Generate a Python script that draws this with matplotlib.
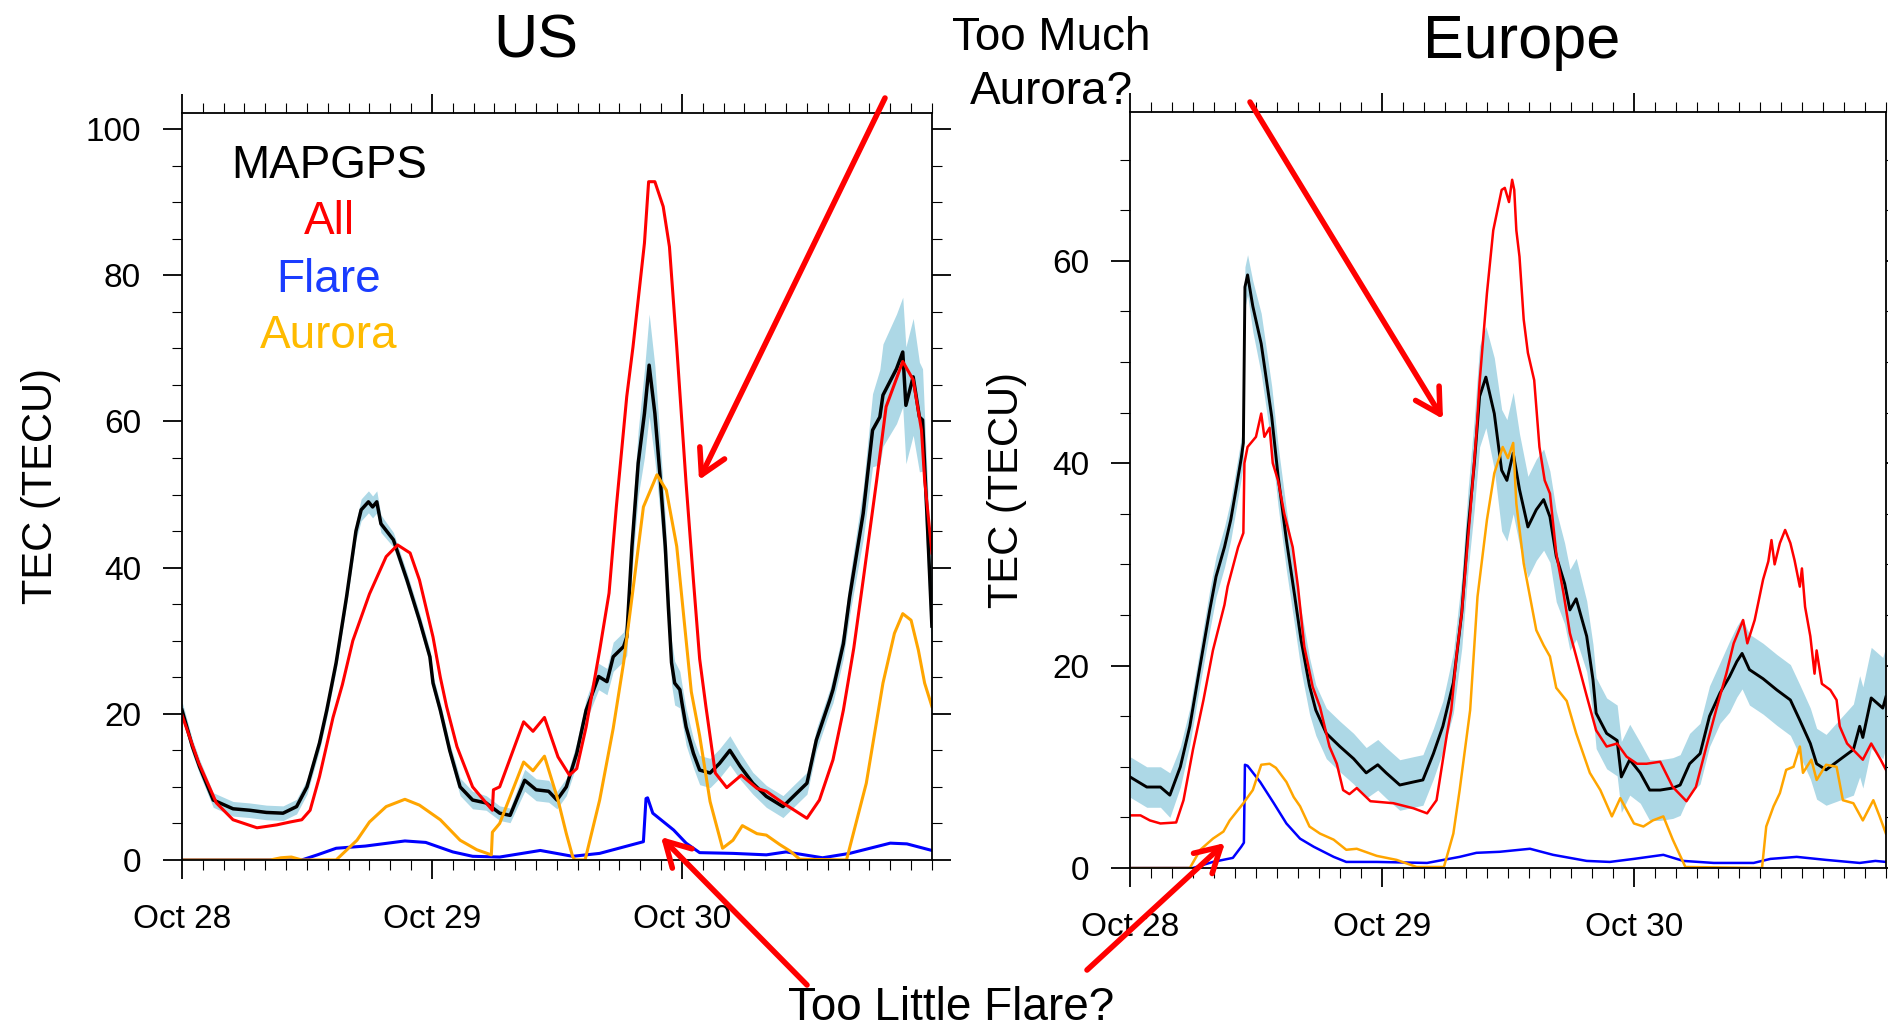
import numpy as np
import matplotlib.pyplot as plt
from matplotlib.patches import FancyArrowPatch
from matplotlib.ticker import MultipleLocator, FixedLocator

plt.rcParams['font.family'] = ['Liberation Sans', 'DejaVu Sans']

# ---- US panel (hours since Oct 28 00UT) ----
us_t_map = [0, 1.0, 1.7, 3.0, 4.9, 6.5, 8.1, 9.7, 11.0, 12.0, 13.2, 13.9, 14.8, 15.8, 16.7,
            17.2, 17.9, 18.3, 18.7, 19.1, 20.3, 21.6, 22.8, 23.8, 24.1, 24.8, 25.7, 26.7,
            27.9, 29.2, 30.5, 31.5, 32.9, 34.0, 35.2, 36.0, 36.9, 37.9, 38.8, 40.0, 40.8,
            41.4, 42.4, 42.7, 43.2, 43.8, 44.4, 44.85, 45.4, 45.9, 46.4, 46.7, 47.0, 47.3,
            47.8, 48.0, 48.4, 49.1, 49.7, 50.7, 51.6, 52.6, 53.6, 54.8, 56.1, 57.7, 58.7,
            60.0, 60.9, 62.2, 62.5, 63.5, 64.1, 65.4, 66.3, 67.0, 67.3, 68.6, 69.2, 69.5,
            70.2, 70.8, 71.1, 71.5, 72.0]
us_map = [20.5, 15.5, 12.7, 8.2, 7.0, 6.8, 6.5, 6.4, 7.3, 10.0, 16.0, 20.5, 27.0, 36.0, 45.0,
          47.9, 49.0, 48.3, 49.0, 46.0, 43.8, 38.3, 32.8, 27.8, 24.2, 20.5, 15.0, 10.0,
          8.2, 7.8, 6.4, 6.1, 10.9, 9.6, 9.4, 8.2, 10.0, 14.6, 20.5, 25.1, 24.4,
          27.8, 29.2, 30.5, 42.9, 54.3, 61.1, 67.7, 61.1, 52.5, 42.9, 34.5, 27.0, 24.2,
          23.3, 21.5, 18.2, 14.6, 12.3, 11.9, 13.2, 15.0, 12.8, 10.5, 8.7, 7.3, 8.7,
          10.5, 16.4, 21.9, 23.3, 29.6, 36.0, 47.4, 58.8, 60.6, 63.6, 67.2, 69.5, 62.2,
          66.1, 60.6, 60.2, 48.0, 32.0]
us_err = [1.2, 1.0, 1.0, 1.0, 1.0, 1.0, 1.0, 1.0, 1.0, 1.0, 1.0, 1.0, 1.0, 1.0, 1.2,
          1.5, 1.5, 1.5, 1.5, 1.2, 1.0, 1.0, 1.0, 1.0, 1.0, 1.0, 1.0, 1.2,
          1.2, 1.0, 1.0, 1.0, 1.5, 1.5, 1.5, 1.2, 1.2, 1.5, 1.5, 1.8, 1.8,
          2.0, 2.0, 2.5, 3.5, 4.5, 6.0, 7.0, 6.5, 5.0, 4.0, 3.0, 3.0, 3.0,
          2.5, 2.5, 2.5, 2.0, 2.0, 2.0, 2.0, 2.0, 1.8, 1.5, 1.5, 1.5, 1.5,
          1.5, 1.5, 1.5, 1.8, 2.0, 2.5, 3.5, 5.0, 6.5, 7.0, 7.5, 7.5, 8.0,
          8.0, 7.5, 7.0, 6.0, 5.0]

us_t_all = [0, 1.6, 3.3, 4.9, 7.2, 9.1, 10.4, 11.5, 12.3, 13.2, 14.5, 15.4, 16.4, 18.0,
            19.6, 20.7, 21.9, 22.8, 24.1, 24.8, 25.4, 26.4, 27.9, 29.8, 29.9, 30.5, 32.8,
            33.7, 34.8, 36.1, 37.2, 37.9, 38.8, 40.1, 41.0, 41.7, 42.7, 43.3, 44.4, 44.8,
            45.4, 46.2, 46.8, 47.5, 48.4, 49.1, 49.7, 50.3, 51.2, 52.3, 53.7, 55.2, 56.1,
            57.7, 60.0, 61.2, 62.5, 63.5, 64.5, 65.4, 66.7, 67.6, 69.2, 70.2, 71.0, 71.3, 72.0]
us_all = [19.8, 13.3, 7.8, 5.5, 4.4, 4.8, 5.2, 5.5, 6.8, 11.4, 19.5, 24.0, 30.0, 36.4,
          41.5, 43.1, 42.0, 38.3, 30.5, 25.0, 21.0, 15.5, 10.0, 6.8, 9.6, 10.0, 18.9,
          17.6, 19.5, 14.1, 11.6, 12.5, 18.2, 28.7, 36.5, 48.3, 63.4, 70.2, 84.4, 92.8,
          92.8, 89.4, 83.9, 70.2, 51.5, 38.3, 27.5, 21.0, 11.9, 9.9, 11.6, 9.8, 9.4,
          7.8, 5.7, 8.2, 13.7, 20.5, 29.0, 38.3, 52.0, 62.0, 68.2, 65.7, 58.8, 52.0, 42.0]

us_t_flare = [0, 11.5, 13.0, 14.8, 17.6, 21.4, 23.4, 26.0, 27.9, 30.5, 34.4, 37.5, 40.1,
              44.3, 44.55, 44.7, 45.2, 47.2, 48.4, 49.7, 52.9, 56.1, 58.0, 61.5, 64.1,
              68.0, 69.6, 72.0]
us_flare = [0, 0, 0.7, 1.6, 1.9, 2.6, 2.4, 1.1, 0.5, 0.4, 1.3, 0.5, 0.9,
            2.5, 8.4, 8.5, 6.4, 4.1, 2.3, 1.0, 0.9, 0.7, 1.1, 0.3, 0.9,
            2.3, 2.2, 1.3]

us_t_aur = [0, 8.5, 9.5, 10.5, 11.5, 14.8, 16.8, 18.0, 19.6, 21.4, 22.8, 24.8, 26.7, 28.3,
            29.7, 29.8, 30.5, 32.8, 33.7, 34.8, 36.1, 36.9, 37.5, 37.7, 38.7, 40.1, 41.4,
            42.4, 43.3, 44.3, 45.6, 46.5, 47.5, 48.3, 48.9, 49.7, 50.7, 51.9, 52.9, 53.8,
            55.2, 56.1, 57.4, 58.4, 59.3, 63.8, 65.7, 67.3, 68.4, 69.2, 70.0, 70.7, 71.3, 72.0]
us_aur = [0, 0, 0.3, 0.4, 0, 0, 2.7, 5.2, 7.3, 8.3, 7.5, 5.5, 2.7, 1.4,
          0.7, 3.8, 5.0, 13.4, 12.2, 14.2, 8.2, 3.6, 0.5, 0, 0, 8.2, 18.0,
          27.0, 37.0, 48.3, 52.7, 50.6, 42.9, 31.5, 23.0, 17.0, 8.0, 1.6, 2.7, 4.7,
          3.6, 3.4, 2.1, 1.2, 0.1, 0, 10.5, 24.2, 31.0, 33.7, 32.8, 28.7, 24.2, 21.0]

# ---- Europe panel ----
eu_t_map = [0, 1.6, 2.9, 3.8, 4.8, 5.7, 6.6, 7.6, 8.2, 9.0, 9.6, 10.1, 10.6, 10.8, 10.95,
            11.2, 11.7, 12.5, 13.0, 13.5, 14.1, 14.9, 15.7, 16.3, 17.1, 17.7, 18.7, 20.0,
            21.3, 22.5, 23.6, 24.4, 25.7, 27.0, 27.9, 28.9, 29.8, 30.8, 31.6, 32.2, 32.8,
            33.3, 33.9, 34.7, 35.4, 35.9, 36.5, 37.1, 37.9, 38.7, 39.4, 40.0, 40.6, 41.4,
            41.9, 42.5, 43.5, 44.1, 44.4, 45.4, 46.4, 46.8, 47.6, 48.6, 49.5, 50.5, 51.7,
            52.4, 53.3, 54.3, 55.2, 56.2, 57.1, 57.8, 58.3, 59.0, 60.3, 61.6, 62.9, 63.8,
            64.8, 65.4, 66.3, 67.6, 68.9, 69.5, 69.8, 70.6, 71.7, 72.0]
eu_map = [9.0, 8.0, 8.0, 7.2, 10.0, 14.0, 19.5, 25.5, 28.8, 31.7, 34.4, 37.4, 40.5, 42.0, 57.4,
          58.6, 55.5, 51.8, 48.2, 44.6, 38.8, 32.4, 26.8, 22.5, 18.0, 15.6, 13.3, 12.0,
          10.8, 9.4, 10.2, 9.4, 8.2, 8.5, 8.7, 11.3, 14.0, 18.3, 25.2, 33.4, 40.0,
          46.6, 48.5, 44.9, 39.3, 38.3, 41.0, 37.4, 33.7, 35.4, 36.4, 34.7, 30.8, 28.1,
          25.5, 26.6, 22.9, 18.6, 15.3, 13.3, 12.6, 9.0, 10.7, 9.4, 7.7, 7.7, 7.9,
          8.2, 10.3, 11.3, 15.0, 17.3, 18.9, 20.4, 21.2, 19.6, 18.7, 17.6, 16.6, 14.6,
          12.3, 10.3, 9.7, 10.7, 11.7, 14.0, 12.9, 16.8, 15.8, 16.9]
eu_err = [2.0, 2.0, 2.0, 2.2, 2.0, 1.8, 1.8, 2.0, 2.0, 2.0, 2.0, 2.0, 2.0, 2.0, 2.0,
          2.0, 2.5, 3.0, 3.0, 3.0, 3.0, 3.0, 3.0, 3.0, 2.8, 2.5, 2.5, 2.5,
          2.5, 2.5, 2.5, 2.5, 2.5, 2.5, 2.5, 2.5, 2.5, 3.0, 3.5, 4.0, 4.5,
          5.0, 5.0, 5.5, 6.0, 6.0, 6.0, 5.5, 5.0, 5.0, 5.0, 4.5, 4.5, 4.0,
          4.0, 4.0, 3.5, 3.5, 3.5, 3.5, 3.5, 3.5, 3.5, 3.0, 3.0, 3.0, 3.0,
          3.0, 3.0, 3.0, 3.0, 3.0, 3.5, 3.5, 3.5, 3.5, 3.5, 3.5, 3.5, 3.5,
          3.5, 3.5, 3.5, 4.0, 4.5, 5.0, 5.0, 5.0, 5.0, 5.0]

eu_t_all = [0, 1.0, 1.9, 2.9, 4.4, 5.1, 6.0, 7.0, 7.9, 9.0, 9.3, 10.3, 10.8, 10.9, 11.2,
            12.0, 12.5, 12.8, 13.3, 13.6, 14.1, 14.7, 15.5, 16.0, 16.6, 17.4, 18.1, 19.0,
            19.7, 20.3, 20.9, 21.6, 22.9, 25.1, 27.0, 28.3, 29.2, 30.2, 30.6, 31.1, 31.6,
            32.4, 33.0, 33.3, 34.0, 34.6, 35.4, 35.7, 36.1, 36.4, 36.6, 36.8, 37.1, 37.5,
            37.9, 38.5, 39.0, 39.5, 40.0, 40.6, 41.3, 41.9, 42.5, 43.5, 44.4, 45.4, 46.4,
            47.3, 48.3, 49.2, 50.5, 51.7, 53.0, 53.9, 54.9, 55.9, 56.8, 57.5, 58.4, 58.8,
            59.5, 60.3, 60.8, 61.1, 61.4, 61.9, 62.4, 62.9, 63.3, 63.8, 64.0, 64.3, 64.8,
            65.2, 65.4, 65.9, 66.7, 67.3, 67.6, 68.3, 69.8, 70.6, 71.5, 72.0]
eu_all = [5.2, 5.2, 4.7, 4.4, 4.5, 6.7, 11.7, 16.6, 21.5, 26.0, 27.8, 31.7, 33.1, 40.0, 41.6,
          42.6, 44.9, 42.6, 43.5, 40.0, 38.3, 35.0, 31.7, 27.8, 21.9, 17.9, 15.9, 12.0,
          10.3, 7.7, 7.3, 7.9, 6.6, 6.4, 5.9, 5.4, 6.7, 13.3, 15.6, 21.0, 25.2,
          35.0, 43.0, 48.0, 56.8, 63.0, 67.0, 67.2, 65.8, 68.0, 67.0, 63.0, 60.4, 54.2,
          50.9, 48.2, 41.6, 38.3, 37.0, 31.1, 27.1, 23.2, 20.9, 17.0, 13.6, 12.0, 12.3,
          11.0, 10.3, 10.3, 10.5, 8.0, 6.6, 8.0, 12.0, 15.9, 19.2, 22.2, 24.5, 22.2,
          24.5, 28.5, 30.3, 32.4, 30.0, 32.1, 33.4, 32.1, 30.4, 27.8, 29.6, 25.8, 22.9,
          19.2, 21.5, 18.2, 17.6, 16.6, 14.0, 12.3, 10.7, 12.3, 10.7, 9.7]

eu_t_flare = [0, 6.0, 7.9, 9.8, 10.6, 10.85, 10.95, 11.2, 12.4, 13.7, 14.9, 16.2, 17.5,
              19.4, 20.6, 23.5, 28.3, 31.4, 33.0, 35.2, 38.1, 40.3, 43.5, 45.7, 48.0,
              50.8, 52.7, 55.6, 59.4, 61.0, 63.5, 66.3, 69.5, 71.0, 72.0]
eu_flare = [0, 0, 0.6, 1.0, 2.1, 2.5, 10.2, 10.1, 8.5, 6.4, 4.4, 2.9, 2.1,
            1.1, 0.6, 0.6, 0.5, 1.1, 1.5, 1.6, 1.9, 1.3, 0.7, 0.6, 0.9,
            1.3, 0.7, 0.5, 0.5, 0.9, 1.1, 0.8, 0.5, 0.7, 0.6]

eu_t_aur = [0, 5.7, 6.7, 7.9, 8.9, 9.5, 10.8, 11.7, 12.5, 13.3, 13.9, 14.9, 15.6, 16.2,
            17.1, 18.1, 19.4, 20.6, 21.6, 23.5, 25.4, 27.3, 29.9, 30.8, 31.4, 32.4, 33.1,
            34.0, 34.7, 35.5, 36.0, 36.5, 36.8, 37.5, 38.1, 38.7, 39.4, 40.0, 40.6, 41.6,
            42.5, 43.8, 44.8, 45.9, 46.7, 48.0, 48.9, 49.8, 50.8, 51.7, 52.9, 60.2, 60.6,
            61.3, 61.9, 62.5, 63.2, 63.8, 64.1, 64.9, 65.4, 66.3, 67.3, 67.9, 68.9, 69.8,
            70.8, 71.4, 72.0]
eu_aur = [0, 0, 1.8, 2.9, 3.6, 4.7, 6.4, 7.7, 10.2, 10.3, 9.9, 8.5, 7.0, 6.1,
          4.1, 3.4, 2.8, 1.8, 1.9, 1.2, 0.8, 0.1, 0.1, 3.4, 7.7, 15.6, 26.8,
          34.4, 39.0, 41.6, 40.5, 42.0, 36.0, 30.1, 26.8, 23.5, 22.0, 20.9, 17.8, 16.5,
          13.3, 9.4, 7.7, 5.1, 6.9, 4.4, 4.1, 4.7, 5.1, 2.8, 0.1, 0, 4.1,
          6.1, 7.4, 9.7, 10.0, 12.0, 9.4, 10.7, 8.7, 10.2, 10.0, 6.7, 6.4, 4.7,
          6.7, 5.1, 3.4]

day_ticks = [0, 24, 48]
day_labels = ['Oct 28', 'Oct 29', 'Oct 30']

fig = plt.figure(figsize=(18.88, 10.31), dpi=100)
ax1 = fig.add_axes([0.0964, 0.1659, 0.3972, 0.7245])
ax2 = fig.add_axes([0.5985, 0.1581, 0.4004, 0.7333])


def draw_panel(ax, t_map, m, err, t_all, a, t_fl, fl, t_au, au, ymax, lw):
    m = np.array(m)
    err = np.array(err)
    ax.fill_between(t_map, m - err, m + err, color='#add8e6', lw=0)
    ax.plot(t_map, m, color='black', lw=lw + 0.3)
    ax.plot(t_all, a, color='red', lw=lw)
    ax.plot(t_fl, fl, color='blue', lw=lw)
    ax.plot(t_au, au, color='orange', lw=lw)
    ax.set_xlim(0, 72)
    ax.set_ylim(0, ymax)
    ax.xaxis.set_major_locator(FixedLocator(day_ticks))
    ax.set_xticklabels(day_labels)
    ax.xaxis.set_minor_locator(MultipleLocator(2))
    ax.yaxis.set_major_locator(MultipleLocator(20))
    ax.yaxis.set_minor_locator(MultipleLocator(5))
    ax.tick_params(which='both', direction='out', top=True, right=True,
                   labelsize=24, pad=16, colors='black')
    ax.tick_params(axis='x', which='major', pad=18)
    ax.tick_params(which='major', length=13.5, width=1.3)
    ax.tick_params(which='minor', length=7, width=0.8)
    for s in ax.spines.values():
        s.set_linewidth(1.3)
    ax.set_ylabel('TEC (TECU)', fontsize=30, labelpad=18)


draw_panel(ax1, us_t_map, us_map, us_err, us_t_all, us_all, us_t_flare, us_flare,
           us_t_aur, us_aur, 102.2, 2.2)
draw_panel(ax2, eu_t_map, eu_map, eu_err, eu_t_all, eu_all, eu_t_flare, eu_flare,
           eu_t_aur, eu_aur, 74.7, 1.8)

# titles and notes
W, H = 1888, 1031
fig.text(536 / W, 1 - 58 / H, 'US', fontsize=44, ha='center', va='baseline')
fig.text(1522 / W, 1 - 58 / H, 'Europe', fontsize=44, ha='center', va='baseline')
fig.text(1051 / W, 1 - 50 / H, 'Too Much', fontsize=33, ha='center', va='baseline')
fig.text(1051 / W, 1 - 104 / H, 'Aurora?', fontsize=33, ha='center', va='baseline')
fig.text(951 / W, 1 - 1020 / H, 'Too Little Flare?', fontsize=33, ha='center', va='baseline')

# legend text in US panel
leg = [('MAPGPS', 'black', 178), ('All', 'red', 234), ('Flare', '#1a3cff', 292),
       ('Aurora', '#ffbb00', 348)]
for txt, c, yb in leg:
    fig.text(329 / W, 1 - yb / H, txt, fontsize=33, color=c, ha='center', va='baseline')

# red arrows (figure pixel coordinates, from top-left)
arrows = [((885, 98), (699, 480)), ((1250, 102), (1443, 419)),
          ((807, 985), (661, 837)), ((1087, 970), (1225, 843))]
for (x0, y0), (x1, y1) in arrows:
    arr = FancyArrowPatch((x0 / W, 1 - y0 / H), (x1 / W, 1 - y1 / H),
                          transform=fig.transFigure,
                          arrowstyle='->,head_length=0.8,head_width=0.45',
                          mutation_scale=22, color='red', lw=4, shrinkA=0, shrinkB=0)
    fig.add_artist(arr)

fig.savefig('out.png', dpi=100)
